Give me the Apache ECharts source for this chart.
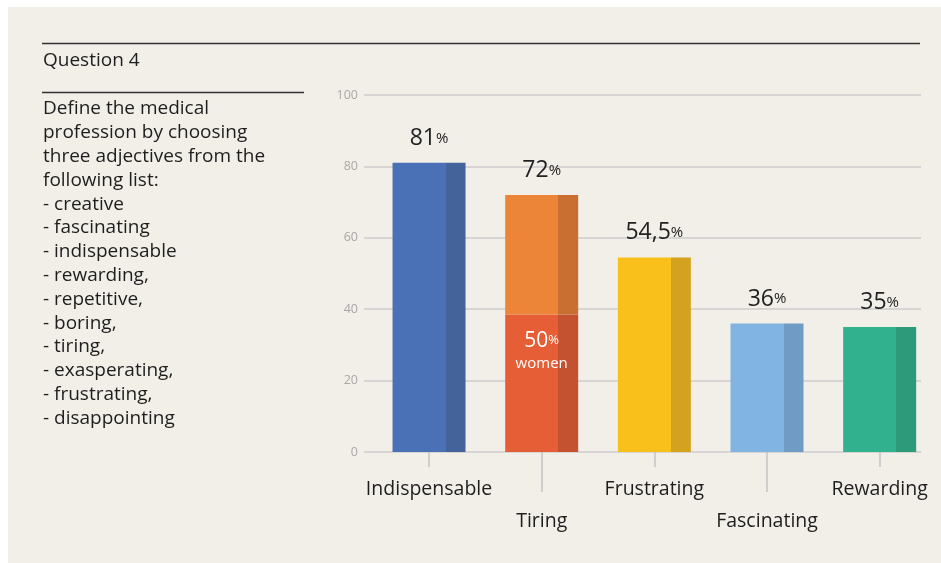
<!DOCTYPE html>
<html><head><meta charset="utf-8">
<script src="https://cdn.jsdelivr.net/npm/echarts@6/dist/echarts.min.js"></script>
<style>html,body{margin:0;padding:0;background:#fff;}#c{width:941px;height:563px;}</style>
</head><body><div id="c"></div>
<script>
const categories = ['Indispensable', 'Tiring', 'Frustrating', 'Fascinating', 'Rewarding'];
const values = [81, 72, 54.5, 36, 35];
const valueLabels = ['81', '72', '54,5', '36', '35'];
const tiringWomenHeight = 38.5;
const tiringWomenLabel = '50';
const yTicks = [0, 20, 40, 60, 80, 100];
const questionTitle = 'Question 4';
const questionLines = ['Define the medical', 'profession by choosing', 'three adjectives from the', 'following list:', '- creative', '- fascinating', '- indispensable', '- rewarding,', '- repetitive,', '- boring,', '- tiring,', '- exasperating,', '- frustrating,', '- disappointing'];
const mainColors = ['#4a70b5', '#ec8538', '#f9bf1b', '#81b4e3', '#31b18e'];
const darkColors = ['#43639a', '#c96f32', '#d4a21e', '#6f9bc4', '#2d9a7a'];
const womenColor = '#e55e35', womenDark = '#c4512f';

const FONT = '"Open Sans", sans-serif';
function split(c, d) {
  return { type: 'linear', x: 0, y: 0, x2: 1, y2: 0, colorStops: [
    { offset: 0, color: c }, { offset: 0.73, color: c }, { offset: 0.73, color: d }, { offset: 1, color: d }] };
}
const topLabel = (txt) => ({
  show: true, position: 'top', distance: 13,
  formatter: '{n|' + txt + '}{p|%}',
  rich: { n: { fontSize: 23, color: '#222', fontFamily: FONT }, p: { fontSize: 15, color: '#222', fontFamily: FONT } }
});
const baseData = values.map((v, i) => {
  if (i === 1) {
    return { value: tiringWomenHeight, itemStyle: { color: split(womenColor, womenDark) },
      label: { show: true, position: 'insideTop', distance: 14, align: 'center',
        formatter: '{n|' + tiringWomenLabel + '}{p|%}\n{w|women}',
        rich: { n: { fontSize: 21, color: '#fff', fontFamily: FONT, lineHeight: 24 }, p: { fontSize: 13, color: '#fff', fontFamily: FONT, lineHeight: 24 }, w: { fontSize: 15, color: '#fff', fontFamily: FONT, lineHeight: 22 } } } };
  }
  return { value: v, itemStyle: { color: split(mainColors[i], darkColors[i]) }, label: topLabel(valueLabels[i]) };
});
const topData = values.map((v, i) => i === 1 ? { value: v - tiringWomenHeight, itemStyle: { color: split(mainColors[i], darkColors[i]) }, label: topLabel(valueLabels[i]) } : '-');

const TEXTFONT = '19px ' + FONT;
const graphic = [
  { type: 'rect', shape: { x: 8, y: 7, width: 933, height: 556 }, style: { fill: '#f2efe8' }, z: -10 },
  { type: 'line', shape: { x1: 42, y1: 43.5, x2: 920, y2: 43.5 }, style: { stroke: '#333', lineWidth: 1.6 } },
  { type: 'line', shape: { x1: 42, y1: 92.5, x2: 304, y2: 92.5 }, style: { stroke: '#333', lineWidth: 1.6 } },
  { type: 'text', x: 43, y: 61, style: { text: questionTitle, font: TEXTFONT, fill: '#1e1e1e', verticalAlign: 'middle' } }
];
questionLines.forEach((t, i) => graphic.push({ type: 'text', x: 43, y: 109 + i * 23.8, style: { text: t, font: TEXTFONT, fill: '#1e1e1e', verticalAlign: 'middle' } }));

const catLabel = { fontSize: 19.5, color: '#1e1e1e', fontFamily: FONT };
const option = {
  animation: false,
  graphic: graphic,
  grid: [
    { left: 364, right: 20, top: 95, bottom: 111 },
    { left: 372.7, right: 5, top: 95, bottom: 111 }
  ],
  xAxis: [
    { gridIndex: 0, type: 'value', show: false, min: 0, max: 1 },
    { gridIndex: 1, type: 'category', data: categories, position: 'bottom', offset: 0,
      axisLine: { show: false },
      axisTick: { show: true, alignWithLabel: true, length: 15, interval: (i) => i % 2 === 0, lineStyle: { color: '#c4c4c4', width: 1.5 } },
      axisLabel: Object.assign({ margin: 27, interval: (i) => i % 2 === 0 }, catLabel) },
    { gridIndex: 1, type: 'category', data: categories, position: 'bottom', offset: 0,
      axisLine: { show: false },
      axisTick: { show: true, alignWithLabel: true, length: 40, interval: (i) => i % 2 === 1, lineStyle: { color: '#c4c4c4', width: 1.5 } },
      axisLabel: Object.assign({ margin: 59, interval: (i) => i % 2 === 1 }, catLabel) }
  ],
  yAxis: [
    { gridIndex: 0, type: 'value', min: yTicks[0], max: yTicks[yTicks.length - 1], interval: 20,
      axisLine: { show: false }, axisTick: { show: false },
      axisLabel: { margin: 6, fontSize: 12.5, color: '#a8a8a8', fontFamily: FONT },
      splitLine: { show: true, lineStyle: { color: '#cdcdcd', width: 1.5 } } },
    { gridIndex: 1, type: 'value', min: 0, max: 100, show: false, splitLine: { show: false } }
  ],
  series: [
    { type: 'bar', xAxisIndex: 1, yAxisIndex: 1, stack: 's', barWidth: 73, data: baseData },
    { type: 'bar', xAxisIndex: 1, yAxisIndex: 1, stack: 's', barWidth: 73, data: topData }
  ]
};
const chart = echarts.init(document.getElementById('c'));
chart.setOption(option);
</script></body></html>
